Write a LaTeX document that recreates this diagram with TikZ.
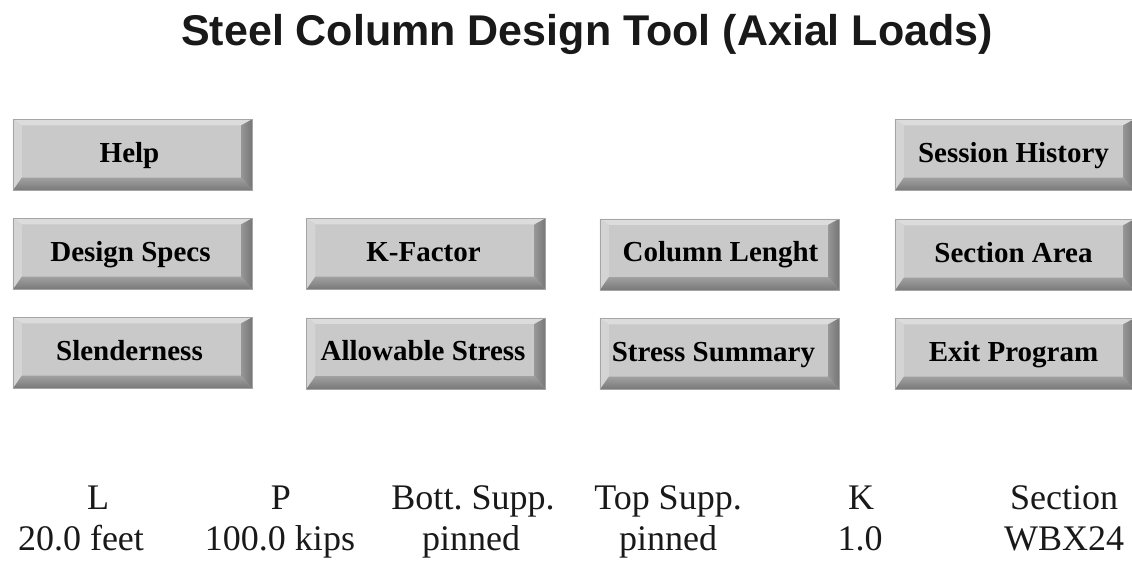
\documentclass[tikz,border=0pt]{standalone}
\usepackage{fontspec}
\setmainfont{Liberation Serif}
\newfontfamily\titlefont{Liberation Sans}
\usetikzlibrary{calc}
\frenchspacing

\definecolor{btnface}{RGB}{201,201,201}
\definecolor{btntop}{RGB}{220,220,220}
\definecolor{btnleft}{RGB}{212,212,212}
\definecolor{btnrightA}{RGB}{150,150,150}
\definecolor{btnrightB}{RGB}{118,118,118}
\definecolor{btnbotA}{RGB}{160,160,160}
\definecolor{btnbotB}{RGB}{120,120,120}
\definecolor{btnedge}{RGB}{165,165,165}
\definecolor{ink}{RGB}{25,25,25}

\tikzset{
  btn/.style={rectangle, fill=btnface, minimum width=239pt, minimum height=71pt,
    inner sep=0pt, text=black, text height=21pt, text depth=7pt,
    font=\fontsize{29}{29}\selectfont\bfseries},
  infotext/.style={anchor=base, text=ink, inner sep=0pt,
    font=\fontsize{36}{36}\selectfont},
  titletext/.style={anchor=base, text=ink, inner sep=0pt,
    font=\titlefont\bfseries\fontsize{43}{43}\selectfont}
}

% raised button: face node with bevelled edges; #4 shifts the label sideways
\newcommand\bevelbtn[5]{%
  \node[btn] (#1) at (#2,#3) {\kern#4pt\relax #5};
  \fill[btntop] (#1.north west) -- (#1.north east) -- ++(-11,6)
    -- ($(#1.north west)+(9,6)$) -- cycle;
  \fill[btnleft] (#1.north west) -- ($(#1.north west)+(9,6)$)
    -- ($(#1.south west)+(9,-13)$) -- (#1.south west) -- cycle;
  \shade[left color=btnrightA, right color=btnrightB]
    (#1.north east) -- (#1.south east) -- ($(#1.south east)+(-11,-13)$)
    -- ($(#1.north east)+(-11,6)$) -- cycle;
  \shade[top color=btnbotA, bottom color=btnbotB]
    (#1.south west) -- ($(#1.south west)+(9,-13)$)
    -- ($(#1.south east)+(-11,-13)$) -- (#1.south east) -- cycle;
  \draw[btnedge, line width=0.6pt] (#1.north west) rectangle (#1.south east);
}

\begin{document}
\begin{tikzpicture}[x=1pt,y=-1pt]
  \useasboundingbox (0,0) rectangle (1132,562);
  \clip (0,0) rectangle (1132,562);
  \fill[white] (0,0) rectangle (1132,562);

  % title
  \node[titletext] (title) at (587,45) {Steel Column Design Tool (Axial Loads)};

  % menu buttons
  \bevelbtn{help}{132.5}{155}{-6}{Help}
  \bevelbtn{hist}{1014.5}{155}{-2}{Session History}

  \bevelbtn{specs}{132.5}{254}{-4}{Design Specs}
  \bevelbtn{kfac}{426}{254}{-5}{K-Factor}
  \bevelbtn{clen}{719.5}{254.5}{2}{Column Lenght}
  \bevelbtn{sarea}{1014.5}{255}{-2}{Section Area}

  \bevelbtn{slen}{132.5}{353}{-6}{Slenderness}
  \bevelbtn{astress}{426}{353.5}{-6}{Allowable Stress}
  \bevelbtn{ssum}{719.5}{354}{-12}{Stress Summary}
  \bevelbtn{exitp}{1014.5}{354}{-2}{Exit Program}

  % current input values
  \node[infotext] (hL)    at (98,509)   {L};
  \node[infotext] (hP)    at (281,509)  {P};
  \node[infotext] (hBot)  at (473,509)  {Bott. Supp.};
  \node[infotext] (hTop)  at (668,509)  {Top Supp.};
  \node[infotext] (hK)    at (861,509)  {K};
  \node[infotext] (hSec)  at (1064,509) {Section};

  \node[infotext] (vL)    at (81,550)   {20.0 feet};
  \node[infotext] (vP)    at (280,550)  {100.0 kips};
  \node[infotext] (vBot)  at (471,550)  {pinned};
  \node[infotext] (vTop)  at (668,550)  {pinned};
  \node[infotext] (vK)    at (860,550)  {1.0};
  \node[infotext] (vSec)  at (1064,550) {WBX24};
\end{tikzpicture}
\end{document}
